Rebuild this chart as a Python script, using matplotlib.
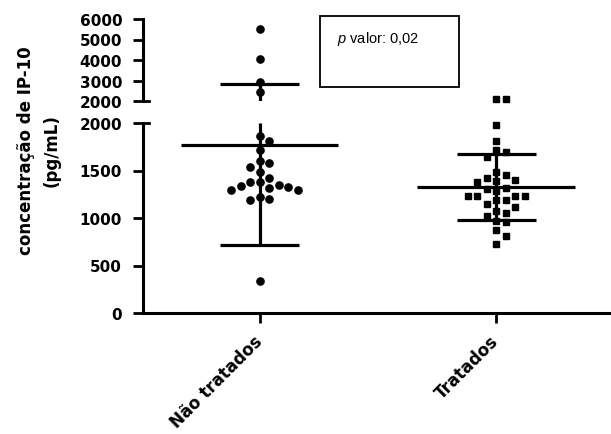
import numpy as np
import matplotlib
matplotlib.use("Agg")
from matplotlib import pyplot as plt
from matplotlib.patches import Rectangle

plt.rcParams['font.family'] = 'DejaVu Sans'
plt.rcParams['mathtext.fontset'] = 'custom'
plt.rcParams['mathtext.it'] = 'Liberation Sans:italic'
plt.rcParams['mathtext.rm'] = 'Liberation Sans'

groups = ['Não tratados', 'Tratados']

nao_tratados = [5500, 4050, 2940, 2450, 1860, 1814, 1719, 1603, 1579, 1533,
                1481, 1418, 1376, 1333, 1316, 1291, 1298, 1330, 1347, 1376,
                1200, 1193, 1218, 340]
tratados = [2120, 2100, 1979, 1814, 1719, 1691, 1639, 1481, 1453, 1403,
            1376, 1389, 1424, 1287, 1305, 1312, 1235, 1235, 1193, 1193,
            1235, 1235, 1147, 1112, 1077, 1053, 1018, 961, 965, 874, 814, 726]

means = [1765, 1325]
sds = [1050, 348]

lower_ticks = [0, 500, 1000, 1500, 2000]
upper_ticks = [2000, 3000, 4000, 5000, 6000]
brk = 2000

fig = plt.figure(figsize=(6.11, 4.35), dpi=100)
ax_lo = fig.add_axes([143/611, 1 - 314/435, 468/611, 190/435])
ax_hi = fig.add_axes([143/611, 1 - 102/435, 468/611, 82/435])

xlim = (-0.4926, 1.486)
for ax in (ax_lo, ax_hi):
    ax.set_xlim(*xlim)
    ax.spines['top'].set_visible(False)
    ax.spines['right'].set_visible(False)
    ax.spines['left'].set_linewidth(2.2)
    ax.spines['bottom'].set_linewidth(2.2)
    ax.tick_params(axis='y', length=7, width=2, pad=8)

ax_lo.set_ylim(0, 2000)
ax_hi.set_ylim(2000, 6000)
ax_hi.spines['bottom'].set_visible(False)
ax_hi.set_xticks([])
ax_lo.set_yticks(lower_ticks)
ax_hi.set_yticks(upper_ticks)
ax_lo.set_yticklabels([str(t) for t in lower_ticks], fontweight='bold', fontsize=11)
ax_hi.set_yticklabels([str(t) for t in upper_ticks], fontweight='bold', fontsize=11)
ax_lo.set_xticks([0, 1])
ax_lo.set_xticklabels(groups, rotation=45, ha='right', va='center',
                      rotation_mode='anchor', fontweight='bold', fontsize=12)
ax_lo.tick_params(axis='x', length=7, width=2, pad=11)

# break stubs
stub = 6 / 468
ax_lo.plot([0, stub], [1, 1], transform=ax_lo.transAxes, color='k', lw=2, clip_on=False)
ax_hi.plot([0, stub], [0, 0], transform=ax_hi.transAxes, color='k', lw=2, clip_on=False)


def swarm(ax, vals, center, step=4.75, dx=9.5, dy=8.5):
    vals = np.asarray(vals, dtype=float)
    ys = ax.transData.transform(np.column_stack([np.full(len(vals), center), vals]))[:, 1]
    ppu = ax.transData.transform([[1, 0]])[0, 0] - ax.transData.transform([[0, 0]])[0, 0]
    placed = []
    offs = np.zeros(len(vals))
    order = [0]
    for k in range(1, 20):
        order += [k, -k]
    for i in np.argsort(-vals):
        for k in order:
            x = k * step
            if all(abs(x - px) >= dx or abs(ys[i] - py) >= dy for px, py in placed):
                break
        placed.append((x, ys[i]))
        offs[i] = x
    return center + offs / ppu


markers = ['o', 's']
sizes = [5.2, 4.8]
for gi, data in enumerate([nao_tratados, tratados]):
    data = np.asarray(data, dtype=float)
    lo = data[data <= brk]
    hi = data[data > brk]
    ax_lo.plot(swarm(ax_lo, lo, gi), lo, markers[gi], color='k', ms=sizes[gi],
               mec='k', clip_on=False, zorder=3, ls='none')
    if len(hi):
        ax_hi.plot(swarm(ax_hi, hi, gi), hi, markers[gi], color='k', ms=sizes[gi],
                   mec='k', clip_on=False, zorder=3, ls='none')

    m, s = means[gi], sds[gi]
    top = m + s
    bot = m - s
    for ax in (ax_lo, ax_hi):
        y0, y1 = ax.get_ylim()
        a, b = max(bot, y0), min(top, y1)
        if a < b:
            ax.plot([gi, gi], [a, b], color='k', lw=2.3, zorder=2, solid_capstyle='butt')
        for val, hw in [(m, 0.333), (top, 0.167), (bot, 0.167)]:
            if y0 <= val <= y1:
                ax.plot([gi - hw, gi + hw], [val, val], color='k', lw=2.3, zorder=2,
                        solid_capstyle='butt')

fig.text(39/611, 1 - 151/435, 'concentração de IP-10\n(pg/mL)', rotation=90,
         ha='center', va='center', multialignment='center', fontweight='bold',
         fontsize=12, linespacing=1.55)

fig.patches.append(Rectangle((320/611, 1 - 88/435), 139/611, 71/435, transform=fig.transFigure,
                             fill=False, edgecolor='k', lw=1.3))
fig.text(337/611, 1 - 43/435, r'$p$ valor: 0,02', fontsize=10.5, family='Liberation Sans',
         ha='left', va='baseline')

fig.savefig('out.png', dpi=100)
